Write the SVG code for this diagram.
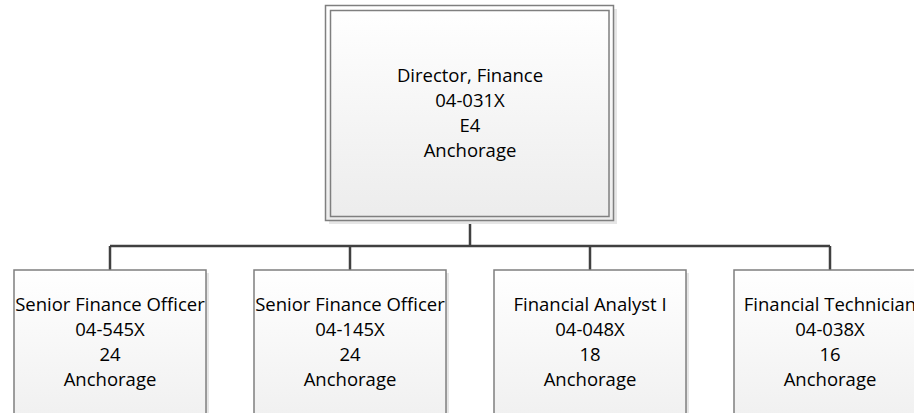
<svg xmlns="http://www.w3.org/2000/svg" width="914" height="413" viewBox="0 0 914 413">
<style>
.box{fill:url(#g);stroke:#7f7f7f;stroke-width:1.5}
.inner{fill:none;stroke:#7f7f7f;stroke-width:1.5}
.shadow{fill:#e6e6e6}
.conn{fill:none;stroke:#404040;stroke-width:2.5}
text{font-family:"Open Sans","Liberation Sans",sans-serif;font-size:18.5px;fill:#000;text-anchor:middle}
</style>
<defs>
<linearGradient id="g" x1="0" y1="0" x2="0" y2="1">
<stop offset="0" stop-color="#ffffff"/>
<stop offset="1" stop-color="#ececec"/>
</linearGradient>
<linearGradient id="gc" gradientUnits="userSpaceOnUse" x1="0" y1="270" x2="0" y2="460">
<stop offset="0" stop-color="#ffffff"/>
<stop offset="1" stop-color="#ececec"/>
</linearGradient>
</defs>
<g id="connectors">
<path class="conn" d="M470 221V246M110 246H830M110 246V270M350 246V270M590 246V270M830 246V270"/>
</g>
<g id="director">
<rect class="shadow" x="329" y="9" width="288" height="215"/>
<rect class="box" x="325.5" y="5.5" width="288" height="215"/>
<rect class="inner" x="330.5" y="10.5" width="278.5" height="206"/>
<text x="470" y="82">Director, Finance</text>
<text x="470" y="107">04-031X</text>
<text x="470" y="132">E4</text>
<text x="470" y="157">Anchorage</text>
</g>
<g id="sfo1">
<rect class="shadow" x="17" y="273" width="192" height="150"/>
<rect class="box" style="fill:url(#gc)" x="14" y="270" width="192" height="150"/>
<text x="110" y="311">Senior Finance Officer</text>
<text x="110" y="336">04-545X</text>
<text x="110" y="361">24</text>
<text x="110" y="386">Anchorage</text>
</g>
<g id="sfo2">
<rect class="shadow" x="257" y="273" width="192" height="150"/>
<rect class="box" style="fill:url(#gc)" x="254" y="270" width="192" height="150"/>
<text x="350" y="311">Senior Finance Officer</text>
<text x="350" y="336">04-145X</text>
<text x="350" y="361">24</text>
<text x="350" y="386">Anchorage</text>
</g>
<g id="fa1">
<rect class="shadow" x="497" y="273" width="192" height="150"/>
<rect class="box" style="fill:url(#gc)" x="494" y="270" width="192" height="150"/>
<text x="590" y="311">Financial Analyst I</text>
<text x="590" y="336">04-048X</text>
<text x="590" y="361">18</text>
<text x="590" y="386">Anchorage</text>
</g>
<g id="ft">
<rect class="shadow" x="737" y="273" width="192" height="150"/>
<rect class="box" style="fill:url(#gc)" x="734" y="270" width="192" height="150"/>
<text x="830" y="311">Financial Technician</text>
<text x="830" y="336">04-038X</text>
<text x="830" y="361">16</text>
<text x="830" y="386">Anchorage</text>
</g>
</svg>
